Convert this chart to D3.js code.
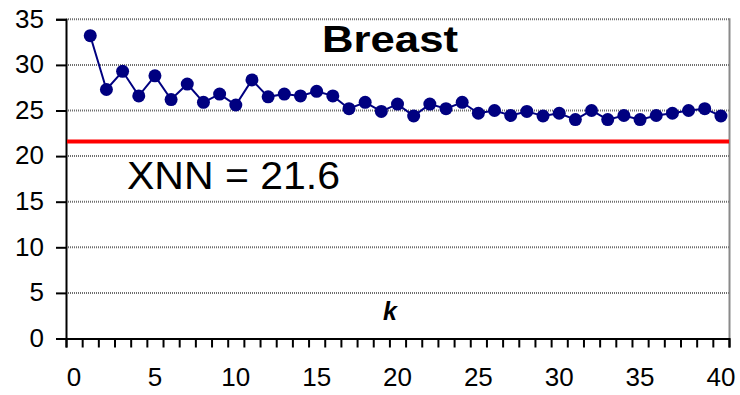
<!DOCTYPE html>
<html>
<head>
<meta charset="utf-8">
<script src="https://cdn.jsdelivr.net/npm/d3@7"></script>
<style>
  html, body { margin: 0; padding: 0; background: #fff; }
  svg { display: block; font-family: "Liberation Sans", Arial, sans-serif; }
</style>
</head>
<body>
<svg id="chart" width="740" height="395"></svg>
<script>
// Category labels shown on the k axis (every fifth of 0..40)
const categories = d3.range(0, 41);
const xTickLabels = [0, 5, 10, 15, 20, 25, 30, 35, 40];
const yTickLabels = [0, 5, 10, 15, 20, 25, 30, 35];

// Error rate for each k = 1..40
const kValues = d3.range(1, 41);
const errorRates = [
  33.2, 27.3, 29.3, 26.6, 28.8, 26.2, 27.9, 25.9, 26.8, 25.6,
  28.35, 26.5, 26.8, 26.6, 27.1, 26.6, 25.2, 25.9, 24.9, 25.7,
  24.4, 25.7, 25.2, 25.9, 24.7, 25.0, 24.45, 24.9, 24.4, 24.7,
  24.0, 25.0, 24.0, 24.45, 24.0, 24.45, 24.7, 25.0, 25.2, 24.4
];

// Reference XNN error rate
const xnnValue = 21.6;
const title = "Breast";
const axisName = "k";

const svg = d3.select("#chart");
const plotLeft = 66, plotRight = 729, plotTop = 19.3, plotBottom = 338.5;

const x = d3.scaleBand().domain(categories).range([plotLeft, plotRight]).padding(0);
const xEdge = d3.scaleLinear().domain([0, categories.length]).range([plotLeft, plotRight]);
const y = d3.scaleLinear().domain([0, 35]).range([plotBottom, plotTop]);

// Horizontal gridlines
svg.append("g")
  .selectAll("line")
  .data(yTickLabels.filter(v => v > 0))
  .join("line")
  .attr("x1", plotLeft).attr("x2", plotRight)
  .attr("y1", d => y(d)).attr("y2", d => y(d))
  .attr("stroke", "#6e6e6e")
  .attr("stroke-width", 2)
  .attr("stroke-dasharray", "1,1");

// Right border of the plot area
svg.append("line")
  .attr("x1", plotRight + 0.5).attr("x2", plotRight + 0.5)
  .attr("y1", y(35) - 1).attr("y2", plotBottom)
  .attr("stroke", "#8a8a8a").attr("stroke-width", 2);

// Y axis
const yAxis = d3.axisLeft(y)
  .tickValues(yTickLabels)
  .tickSize(10)
  .tickPadding(12)
  .tickFormat(d3.format("d"));
const gy = svg.append("g").attr("transform", `translate(${plotLeft},0)`).call(yAxis);
gy.select(".domain").attr("stroke", "#000").attr("stroke-width", 2);
gy.selectAll(".tick line").attr("stroke", "#000").attr("stroke-width", 2);
gy.selectAll(".tick text")
  .attr("font-size", 26)
  .attr("font-family", "Liberation Sans, Arial, sans-serif")
  .attr("fill", "#000")
  .attr("dy", "0.3em");

// X axis: tick marks on category boundaries
const xAxisTicks = d3.axisBottom(xEdge)
  .tickValues(d3.range(0, categories.length + 1))
  .tickSize(9)
  .tickFormat("");
const gx = svg.append("g").attr("transform", `translate(0,${plotBottom})`).call(xAxisTicks);
gx.select(".domain").attr("stroke", "#000").attr("stroke-width", 2);
gx.selectAll(".tick line").attr("stroke", "#000").attr("stroke-width", 2);

// X axis labels centred in their categories
svg.append("g")
  .selectAll("text")
  .data(xTickLabels)
  .join("text")
  .attr("x", d => x(d) + x.bandwidth() / 2)
  .attr("y", 386)
  .attr("text-anchor", "middle")
  .attr("font-size", 26)
  .attr("fill", "#000")
  .text(d => d);

// XNN reference line
svg.append("line")
  .attr("x1", plotLeft + 1).attr("x2", plotRight)
  .attr("y1", y(xnnValue)).attr("y2", y(xnnValue))
  .attr("stroke", "#ff0000").attr("stroke-width", 4);

svg.append("text")
  .attr("x", 127).attr("y", 188.5)
  .attr("font-size", 39)
  .attr("textLength", 213)
  .attr("lengthAdjust", "spacingAndGlyphs")
  .attr("fill", "#000")
  .text(`XNN = ${xnnValue}`);

// Error rate series
const series = kValues.map((k, i) => ({ k, v: errorRates[i] }));
const line = d3.line()
  .x(d => x(d.k) + x.bandwidth() / 2)
  .y(d => y(d.v));

svg.append("path")
  .datum(series)
  .attr("d", line)
  .attr("fill", "none")
  .attr("stroke", "#000080")
  .attr("stroke-width", 2);

svg.append("g")
  .selectAll("circle")
  .data(series)
  .join("circle")
  .attr("cx", d => x(d.k) + x.bandwidth() / 2)
  .attr("cy", d => y(d.v))
  .attr("r", 6.5)
  .attr("fill", "#000080");

// Title
svg.append("text")
  .attr("x", 322).attr("y", 52)
  .attr("font-size", 37)
  .attr("font-weight", "bold")
  .attr("textLength", 136)
  .attr("lengthAdjust", "spacingAndGlyphs")
  .attr("fill", "#000")
  .text(title);

// Axis name
svg.append("text")
  .attr("x", 390).attr("y", 320)
  .attr("text-anchor", "middle")
  .attr("font-size", 25)
  .attr("font-weight", "bold")
  .attr("font-style", "italic")
  .attr("fill", "#000")
  .text(axisName);
</script>
</body>
</html>
